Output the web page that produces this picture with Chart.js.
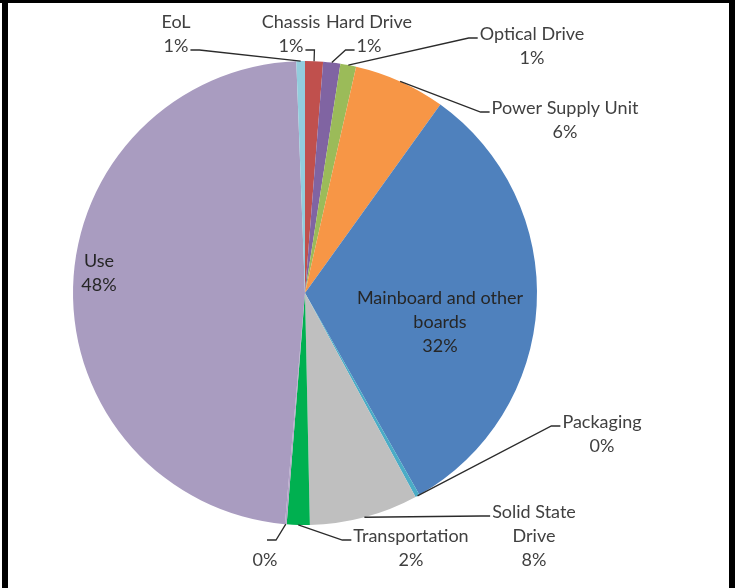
<!DOCTYPE html>
<html>
<head>
<meta charset="utf-8">
<script src="https://cdn.jsdelivr.net/npm/chart.js@4.4.1/dist/chart.umd.min.js"></script>
<style>
  html, body { margin: 0; padding: 0; background: #ffffff; }
  #wrap { position: relative; width: 739px; height: 588px; }
</style>
</head>
<body>
<div id="wrap"><canvas id="c" width="739" height="588"></canvas></div>
<script>
// ---- data ----
const categories = ["Chassis", "Hard Drive", "Optical Drive", "Power Supply Unit",
  "Mainboard and other\nboards", "Packaging", "Solid State\nDrive", "Transportation",
  "", "Use", "EoL"];
const shares = [1.25, 1.2, 1.1, 6.4, 32.0, 0.3, 7.6, 1.6, 0.12, 48.2, 0.6];
const sliceColors = ["#C0504D", "#8064A2", "#9BBB59", "#F79646", "#4F81BD", "#4BACC6",
  "#BFBFBF", "#00B050", "#B3A2C7", "#A99CC0", "#93CDDD"];

// ---- label layout (text placement only) ----
// x: centre of text block, y: centre of first line, stub: which line & side the leader attaches to
const labelLayout = [
  { x: 291, y: 22, stub: { line: 1, side: "right" } },
  { x: 369, y: 22, stub: { line: 1, side: "left" } },
  { x: 532, y: 34, stub: { line: 0, side: "left" } },
  { x: 565, y: 108, stub: { line: 0, side: "left" } },
  { x: 440, y: 298, inside: true },
  { x: 602, y: 422, stub: { line: 0, side: "left" } },
  { x: 534, y: 512, stub: { line: 0, side: "left" } },
  { x: 411, y: 536, stub: { line: 0, side: "left" } },
  { x: 265, y: 536, stub: { line: 0, side: "right" } },
  { x: 99, y: 261, inside: true },
  { x: 176, y: 22, stub: { line: 1, side: "right" } }
];

const FONT = '18px Lato, "Liberation Sans", sans-serif';
const LINE_H = 24;

const framePlugin = {
  id: "frame",
  beforeDraw(chart) {
    const ctx = chart.ctx;
    ctx.save();
    ctx.fillStyle = "#ffffff";
    ctx.fillRect(0, 0, chart.width, chart.height);
    ctx.restore();
  },
  afterDraw(chart) {
    const ctx = chart.ctx;
    ctx.save();
    ctx.fillStyle = "#000000";
    ctx.fillRect(0, 0, 735, 3);
    ctx.fillRect(2, 0, 6, chart.height);
    ctx.fillRect(729, 0, 6, chart.height);
    ctx.restore();
  }
};

const labelPlugin = {
  id: "pieLabels",
  afterDatasetsDraw(chart) {
    const ctx = chart.ctx;
    const meta = chart.getDatasetMeta(0);
    const data = chart.data.datasets[0].data;
    const total = data.reduce((a, b) => a + b, 0);
    ctx.save();
    ctx.font = FONT;
    ctx.textAlign = "center";
    ctx.textBaseline = "middle";
    meta.data.forEach((arc, i) => {
      const L = labelLayout[i];
      const pct = Math.round(data[i] / total * 100) + "%";
      const lines = chart.data.labels[i].split("\n");
      lines.push(pct);
      ctx.fillStyle = L.inside ? "#262626" : "#404040";
      lines.forEach((t, k) => ctx.fillText(t, L.x, L.y + k * LINE_H));
      if (L.inside) return;
      const p = arc.getProps(["x", "y", "startAngle", "endAngle", "outerRadius"], true);
      const mid = (p.startAngle + p.endAngle) / 2;
      const ax = p.x + Math.cos(mid) * p.outerRadius;
      const ay = p.y + Math.sin(mid) * p.outerRadius;
      const w = ctx.measureText(lines[L.stub.line]).width;
      const sy = L.y + L.stub.line * LINE_H + 4;
      let sx, ex;
      if (L.stub.side === "left") { sx = L.x - w / 2 - 2; ex = sx - 9; }
      else { sx = L.x + w / 2 + 2; ex = sx + 9; }
      ctx.strokeStyle = "#2b2b2b";
      ctx.lineWidth = 1.3;
      ctx.beginPath();
      ctx.moveTo(sx, sy);
      ctx.lineTo(ex, sy);
      ctx.lineTo(ax, ay);
      ctx.stroke();
    });
    ctx.restore();
  }
};

new Chart(document.getElementById("c"), {
  type: "pie",
  data: {
    labels: categories,
    datasets: [{
      data: shares,
      backgroundColor: sliceColors,
      borderWidth: 0
    }]
  },
  options: {
    responsive: false,
    animation: false,
    layout: { padding: { left: 73, right: 202, top: 61, bottom: 63 } },
    plugins: { legend: { display: false }, tooltip: { enabled: false } }
  },
  plugins: [framePlugin, labelPlugin]
});
</script>
</body>
</html>
